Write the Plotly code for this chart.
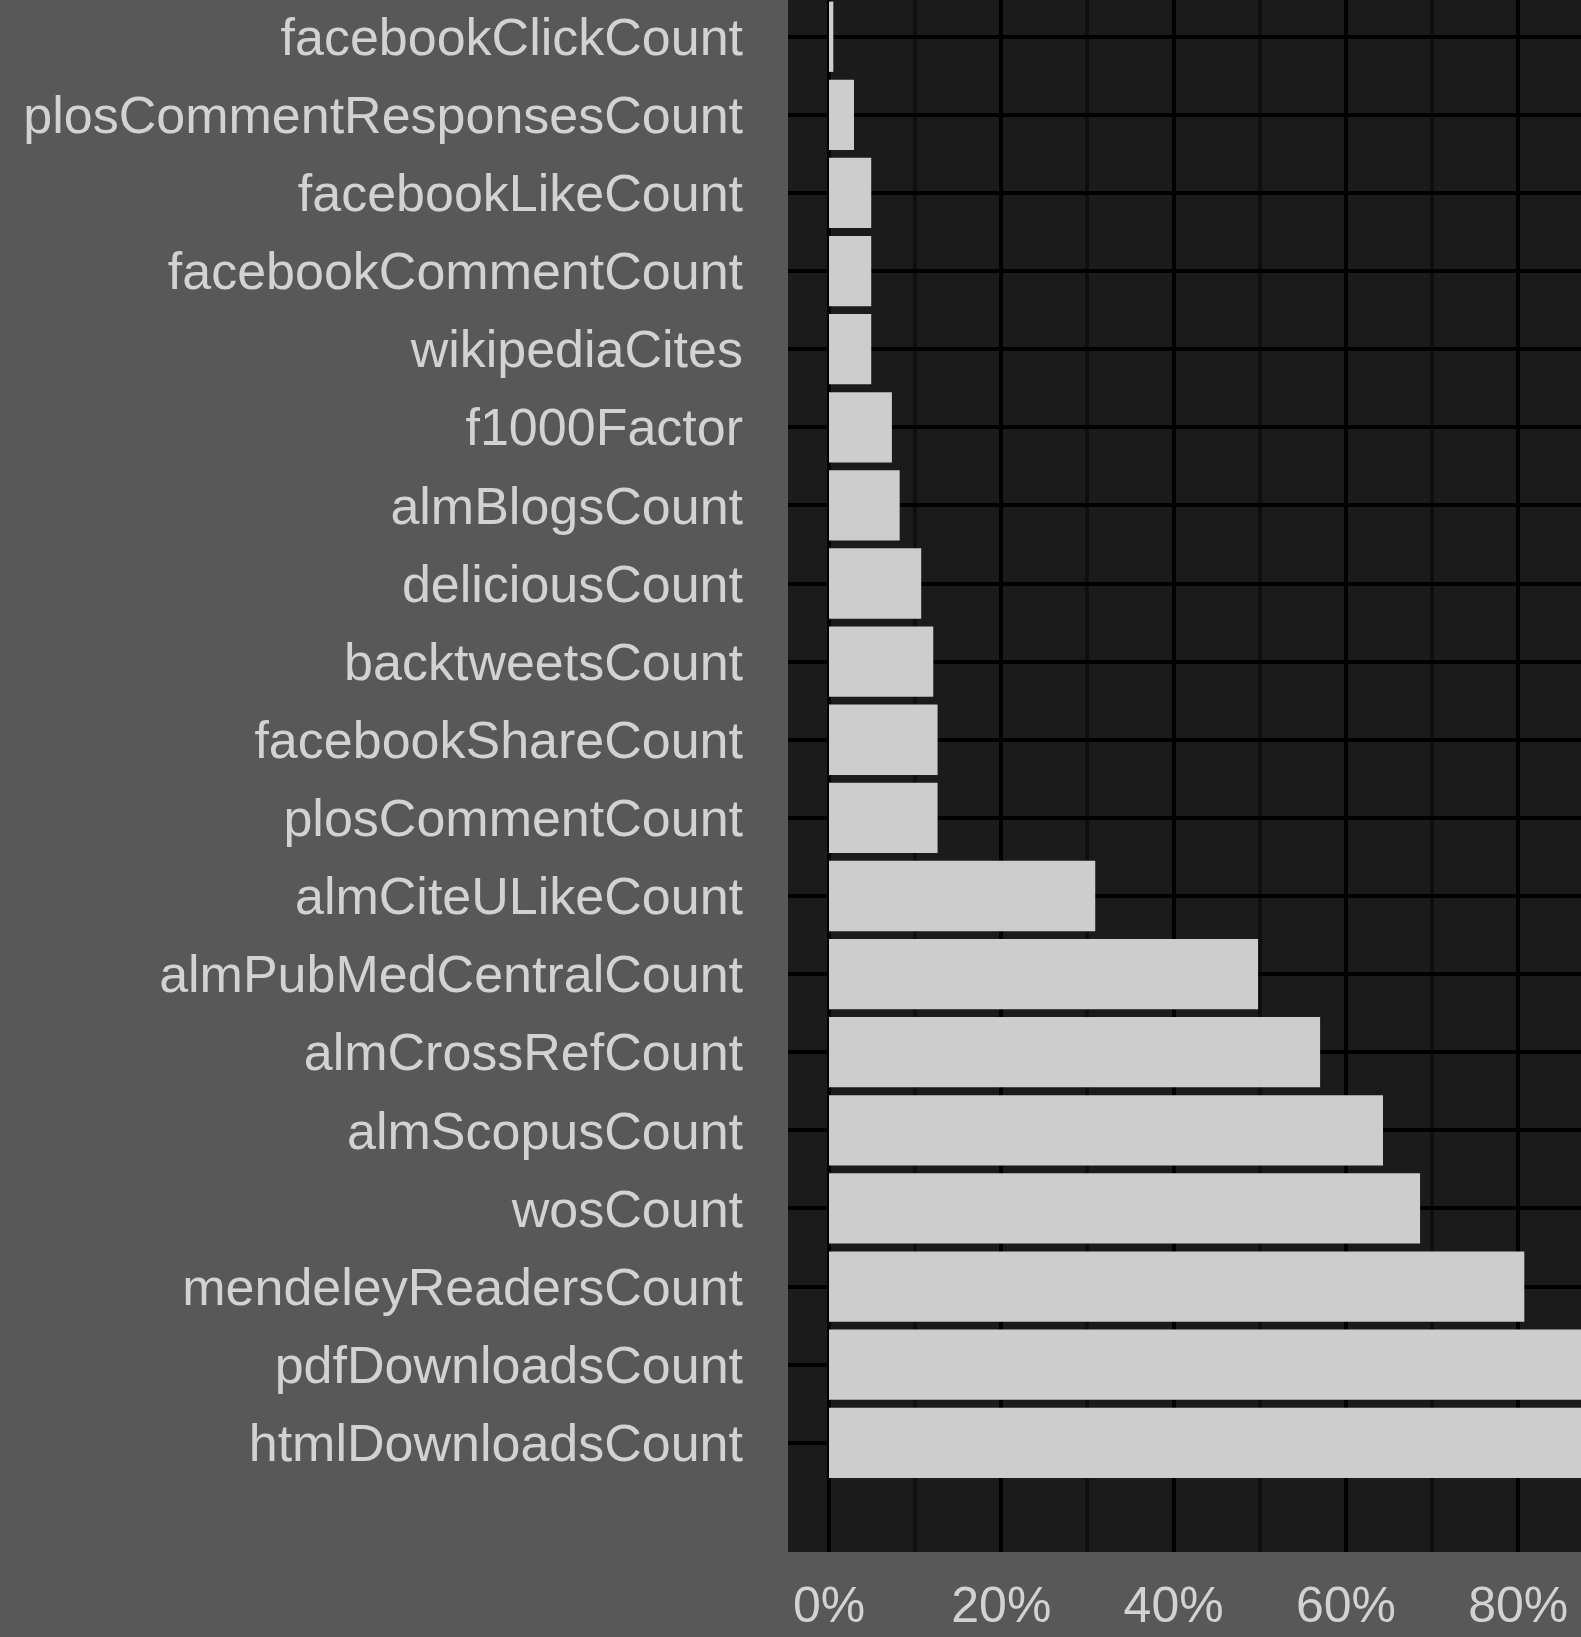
import plotly.graph_objects as go

# categories listed bottom -> top
categories = [
    "htmlDownloadsCount", "pdfDownloadsCount", "mendeleyReadersCount", "wosCount",
    "almScopusCount", "almCrossRefCount", "almPubMedCentralCount", "almCiteULikeCount",
    "plosCommentCount", "facebookShareCount", "backtweetsCount", "deliciousCount",
    "almBlogsCount", "f1000Factor", "wikipediaCites", "facebookCommentCount",
    "facebookLikeCount", "plosCommentResponsesCount", "facebookClickCount",
]
share = [
    1.00, 0.99, 0.807, 0.686,
    0.643, 0.570, 0.498, 0.309,
    0.126, 0.126, 0.121, 0.107,
    0.082, 0.073, 0.049, 0.049,
    0.049, 0.029, 0.005,
]

x_ticks = [0, 0.2, 0.4, 0.6, 0.8, 1.0]

BG = "#585858"
PANEL = "#1b1b1b"
BAR = "#cdcdcd"
TXT = "#d2d2d2"
FONT = "Liberation Sans, Arial, Helvetica, sans-serif"

fig = go.Figure(
    go.Bar(
        x=share,
        y=categories,
        orientation="h",
        width=0.9,
        marker=dict(color=BAR, line=dict(width=0)),
        hoverinfo="x+y",
    )
)

fig.update_layout(
    width=1581,
    height=1637,
    paper_bgcolor=BG,
    plot_bgcolor=PANEL,
    margin=dict(l=788, r=0, t=0, b=85, pad=0),
    showlegend=False,
    font=dict(family=FONT, size=51, color=TXT),
    bargap=0.1,
)

fig.update_xaxes(
    range=[-0.0476, 0.8728],
    tickvals=x_ticks,
    tickformat=".0%",
    showgrid=True,
    gridcolor="#000000",
    gridwidth=4,
    zeroline=False,
    showline=False,
    ticks="",
    ticklabelstandoff=19,
    tickfont=dict(family=FONT, size=50, color=TXT),
    minor=dict(dtick=0.1, tick0=0, showgrid=True, gridcolor="#0f0f0f", gridwidth=4),
    automargin=False,
)

fig.update_yaxes(
    type="category",
    categoryorder="array",
    categoryarray=categories,
    range=[-1.398, 18.47],
    showgrid=True,
    gridcolor="#000000",
    gridwidth=4,
    zeroline=False,
    showline=False,
    ticks="",
    ticklabelstandoff=44,
    tickfont=dict(family=FONT, size=52, color=TXT),
    automargin=False,
)

fig.write_html(
    "out.html",
    config={"displayModeBar": False},
    post_script="document.body.style.margin='0';document.body.style.background='#585858';",
)
